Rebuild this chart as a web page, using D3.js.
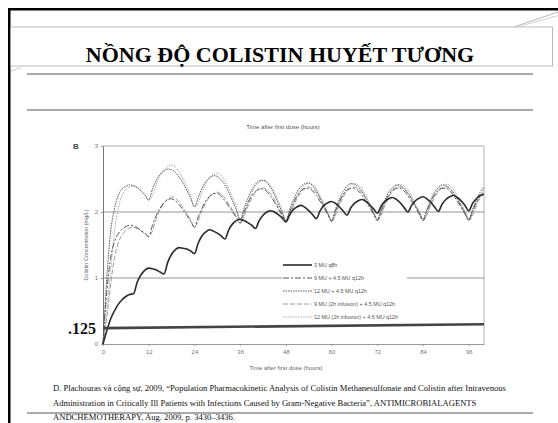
<!DOCTYPE html>
<html>
<head>
<meta charset="UTF-8">
<style>
  body { margin: 0; background: #fff; }
  svg { display: block; }
</style>
</head>
<body>
<svg></svg>
<script src="https://d3js.org/d3.v7.min.js"></script>
<script>

let width = 558, height = 423;

// time grid, hours after first dose
let hours = d3.range(0, 101);

// colistin concentration (mg/L)
let s3mu = [
  0, 0.2, 0.38, 0.5, 0.6, 0.67, 0.72, 0.75, 0.76,
  0.94, 1.05, 1.12, 1.15, 1.14, 1.12, 1.09, 1.06,
  1.24, 1.36, 1.43, 1.46, 1.45, 1.44, 1.41, 1.37,
  1.53, 1.64, 1.7, 1.73, 1.71, 1.68, 1.64, 1.59,
  1.73, 1.82, 1.87, 1.89, 1.87, 1.84, 1.8, 1.75,
  1.87, 1.95, 2.0, 2.02, 2.0, 1.96, 1.91, 1.85,
  1.96, 2.04, 2.08, 2.1, 2.07, 2.02, 1.96, 1.9,
  2.02, 2.1, 2.14, 2.16, 2.13, 2.08, 2.02, 1.95,
  2.06, 2.13, 2.17, 2.19, 2.16, 2.11, 2.05, 1.98,
  2.09, 2.16, 2.2, 2.22, 2.19, 2.14, 2.07, 2.0,
  2.1, 2.17, 2.21, 2.23, 2.2, 2.15, 2.08, 2.01,
  2.12, 2.19, 2.23, 2.25, 2.22, 2.17, 2.1, 2.02,
  2.13, 2.2, 2.25, 2.27
];

let s9mu = [
  0, 0.8, 1.3, 1.55, 1.67, 1.74, 1.78, 1.8, 1.79, 1.76, 1.72, 1.68, 1.63,
  1.8, 1.95, 2.06, 2.14, 2.19, 2.2, 2.17, 2.11, 2.03, 1.95, 1.86, 1.77,
  1.93, 2.06, 2.17, 2.24, 2.28, 2.28, 2.24, 2.17, 2.09, 2.0, 1.92, 1.83,
  1.99, 2.13, 2.24, 2.31, 2.35, 2.35, 2.31, 2.24, 2.15, 2.05, 1.95, 1.85,
  2.0, 2.14, 2.25, 2.32, 2.36, 2.36, 2.32, 2.25, 2.16, 2.06, 1.96, 1.86,
  2.01, 2.15, 2.26, 2.33, 2.36, 2.36, 2.32, 2.25, 2.16, 2.07, 1.97, 1.87,
  2.01, 2.15, 2.26, 2.33, 2.36, 2.36, 2.32, 2.25, 2.16, 2.07, 1.97, 1.87,
  2.01, 2.15, 2.26, 2.33, 2.36, 2.36, 2.32, 2.25, 2.16, 2.07, 1.97, 1.87,
  2.01, 2.15, 2.25, 2.3
];

let s12mu = [
  0, 1.0, 1.7, 2.05, 2.25, 2.35, 2.39, 2.41, 2.4, 2.37, 2.32, 2.26, 2.18,
  2.35, 2.48, 2.57, 2.62, 2.65, 2.64, 2.6, 2.53, 2.44, 2.33, 2.21, 2.08,
  2.22, 2.36, 2.46, 2.52, 2.55, 2.54, 2.49, 2.41, 2.3, 2.17, 2.03, 1.88,
  2.05, 2.2, 2.33, 2.42, 2.47, 2.48, 2.45, 2.37, 2.26, 2.13, 2.0, 1.87,
  2.04, 2.19, 2.31, 2.39, 2.43, 2.44, 2.4, 2.32, 2.21, 2.09, 1.98, 1.87,
  2.04, 2.19, 2.31, 2.39, 2.43, 2.42, 2.38, 2.31, 2.21, 2.1, 1.99, 1.89,
  2.04, 2.18, 2.3, 2.37, 2.41, 2.4, 2.36, 2.29, 2.2, 2.09, 1.99, 1.89,
  2.04, 2.18, 2.3, 2.37, 2.41, 2.4, 2.36, 2.29, 2.2, 2.09, 1.99, 1.89,
  2.04, 2.18, 2.3, 2.37
];

let s9mu2h = [
  0, 0.4, 0.9, 1.3, 1.53, 1.65, 1.72, 1.76, 1.77, 1.75, 1.71, 1.67, 1.62,
  1.72, 1.9, 2.03, 2.13, 2.19, 2.23, 2.21, 2.15, 2.07, 1.98, 1.88, 1.77,
  1.87, 2.02, 2.14, 2.23, 2.28, 2.3, 2.27, 2.21, 2.12, 2.03, 1.93, 1.83,
  1.93, 2.08, 2.2, 2.29, 2.34, 2.37, 2.34, 2.28, 2.19, 2.08, 1.97, 1.85,
  1.94, 2.09, 2.21, 2.3, 2.35, 2.38, 2.35, 2.29, 2.2, 2.09, 1.98, 1.86,
  1.95, 2.1, 2.22, 2.31, 2.36, 2.38, 2.35, 2.29, 2.2, 2.1, 1.99, 1.87,
  1.95, 2.1, 2.22, 2.31, 2.36, 2.38, 2.35, 2.29, 2.2, 2.1, 1.99, 1.87,
  1.95, 2.1, 2.22, 2.31, 2.36, 2.38, 2.35, 2.29, 2.2, 2.1, 1.99, 1.87,
  1.95, 2.1, 2.21, 2.28
];

let s12mu2h = [
  0, 0.5, 1.1, 1.7, 2.05, 2.25, 2.34, 2.38, 2.39, 2.37, 2.32, 2.26, 2.18,
  2.25, 2.42, 2.55, 2.64, 2.69, 2.71, 2.68, 2.61, 2.51, 2.38, 2.24, 2.08,
  2.14, 2.3, 2.43, 2.52, 2.57, 2.59, 2.55, 2.47, 2.36, 2.22, 2.07, 1.88,
  1.98, 2.14, 2.28, 2.39, 2.45, 2.48, 2.46, 2.4, 2.3, 2.17, 2.03, 1.87,
  1.97, 2.12, 2.25, 2.35, 2.41, 2.44, 2.42, 2.35, 2.25, 2.13, 2.0, 1.87,
  1.97, 2.12, 2.25, 2.35, 2.41, 2.43, 2.41, 2.35, 2.25, 2.13, 2.01, 1.89,
  1.97, 2.12, 2.24, 2.34, 2.4, 2.42, 2.4, 2.34, 2.24, 2.13, 2.01, 1.89,
  1.97, 2.12, 2.24, 2.34, 2.4, 2.42, 2.4, 2.34, 2.24, 2.13, 2.01, 1.89,
  1.97, 2.12, 2.24, 2.34
];

let seriesNames = [
  "3 MU q8h",
  "9 MU + 4.5 MU q12h",
  "12 MU + 4.5 MU q12h",
  "9 MU (2h infusion) + 4.5 MU q12h",
  "12 MU (2h infusion) + 4.5 MU q12h"
];

let xTicks = [0, 12, 24, 36, 48, 60, 72, 84, 96];
let yTicks = [0, 1, 2, 3];
let gridValues = [1, 2];

// hand drawn ".125" marker line on the slide (start, end)
let markTimes = [0, 100];
let markLevels = [0.24, 0.30];

let citation = [
  "D. Plachouras và cộng sự, 2009, “Population Pharmacokinetic Analysis of Colistin Methanesulfonate and Colistin after Intravenous",
  "Administration in Critically Ill Patients with Infections Caused by Gram-Negative Bacteria”, ANTIMICROBIALAGENTS",
  "ANDCHEMOTHERAPY,  Aug. 2009, p. 3430–3436."
];

let series = [s3mu, s9mu, s12mu, s9mu2h, s12mu2h].map((vals, i) => ({
  name: seriesNames[i],
  values: vals.map((v, j) => ({ t: hours[j], c: v }))
}));

let styles = [
  { stroke: "#2b2b2b", width: 1.6, dash: null },
  { stroke: "#555", width: 1, dash: "6,2,2,2" },
  { stroke: "#555", width: 1, dash: "1.5,1" },
  { stroke: "#a0a0a0", width: 1, dash: "5,2" },
  { stroke: "#b0b0b0", width: 1, dash: "1.5,1" }
];

let svg = d3.select("svg")
  .attr("width", width)
  .attr("height", height);

// ---- slide decoration ----
svg.append("rect").attr("x", 8).attr("y", 8).attr("width", 550).attr("height", 2.5).attr("fill", "#000");
svg.append("rect").attr("x", 8).attr("y", 8).attr("width", 2.5).attr("height", 415).attr("fill", "#000");

svg.append("rect")
  .attr("x", 10.5).attr("y", 27).attr("width", 542).attr("height", 39)
  .attr("fill", "none").attr("stroke", "#aaa").attr("stroke-width", 0.8);

svg.append("line").attr("x1", 515).attr("y1", 26.5).attr("x2", 558).attr("y2", 12)
  .attr("stroke", "#999").attr("stroke-width", 0.7);
svg.append("line").attr("x1", 519).attr("y1", 26.5).attr("x2", 558).attr("y2", 15.5)
  .attr("stroke", "#bbb").attr("stroke-width", 0.7);
svg.append("line").attr("x1", 11).attr("y1", 71).attr("x2", 21).attr("y2", 67.5)
  .attr("stroke", "#bbb").attr("stroke-width", 0.7);

svg.append("text")
  .attr("x", 280).attr("y", 62)
  .attr("text-anchor", "middle")
  .style("font-family", "'Liberation Serif', 'Times New Roman', serif")
  .style("font-weight", "bold")
  .style("font-size", "22px")
  .attr("fill", "#000")
  .text("NỒNG ĐỘ COLISTIN HUYẾT TƯƠNG");

[74, 110, 413].forEach(yy => {
  svg.append("line")
    .attr("x1", 27).attr("x2", 533).attr("y1", yy).attr("y2", yy)
    .attr("stroke", "#555").attr("stroke-width", 1.2);
});

svg.append("text")
  .attr("x", 283).attr("y", 129)
  .attr("text-anchor", "middle")
  .style("font-family", "'Liberation Sans', Arial, sans-serif")
  .style("font-size", "6px")
  .attr("fill", "#555")
  .text("Time after first dose (hours)");

// ---- chart ----
let x = d3.scaleLinear().domain([0, 100]).range([103, 484]);
let y = d3.scaleLinear().domain([0, 3]).range([344, 146]);

let chart = svg.append("g").style("font-family", "'Liberation Sans', Arial, sans-serif");

// frame top / right
chart.append("line").attr("x1", x(0)).attr("x2", x(100)).attr("y1", y(3)).attr("y2", y(3))
  .attr("stroke", "#999").attr("stroke-width", 0.8);
chart.append("line").attr("x1", x(100)).attr("x2", x(100)).attr("y1", y(3)).attr("y2", y(0))
  .attr("stroke", "#999").attr("stroke-width", 0.8);

chart.selectAll(".grid")
  .data(gridValues)
  .enter()
  .append("line")
  .attr("class", "grid")
  .attr("x1", x(0)).attr("x2", x(100))
  .attr("y1", d => y(d)).attr("y2", d => y(d))
  .attr("stroke", "#888").attr("stroke-width", 0.9);

let xAxis = chart.append("g")
  .attr("transform", "translate(0," + y(0) + ")")
  .call(d3.axisBottom(x).tickValues(xTicks).tickSize(2).tickSizeOuter(0).tickFormat(d3.format("d")));
xAxis.select(".domain").attr("stroke", "#999");
xAxis.selectAll(".tick line").attr("stroke", "#999");
xAxis.selectAll("text").attr("fill", "#777").style("font-size", "6px").attr("dy", "0.9em");

let yAxis = chart.append("g")
  .attr("transform", "translate(" + x(0) + ",0)")
  .call(d3.axisLeft(y).tickValues(yTicks).tickSize(2).tickSizeOuter(0).tickFormat(d3.format("d")));
yAxis.select(".domain").attr("stroke", "#777");
yAxis.selectAll(".tick line").attr("stroke", "#999");
yAxis.selectAll("text").attr("fill", "#777").style("font-size", "6px");

chart.append("text")
  .attr("transform", "translate(88," + y(1.5) + ") rotate(-90)")
  .attr("text-anchor", "middle")
  .style("font-size", "5.5px")
  .attr("fill", "#666")
  .text("Colistin Concentration (mg/L)");

chart.append("text")
  .attr("x", x(48)).attr("y", 370)
  .attr("text-anchor", "middle")
  .style("font-size", "6px")
  .attr("fill", "#666")
  .text("Time after first dose (hours)");

chart.append("text")
  .attr("x", 73).attr("y", 149)
  .style("font-size", "8px")
  .style("font-weight", "bold")
  .attr("fill", "#444")
  .text("B");

// legend box hides the grid line
let legend = chart.append("g");
legend.append("rect")
  .attr("x", 282).attr("y", 259).attr("width", 125).attr("height", 63)
  .attr("fill", "#fff");

let line = d3.line()
  .x(d => x(d.t))
  .y(d => y(d.c))
  .curve(d3.curveMonotoneX);

chart.append("g")
  .selectAll("path")
  .data(series.slice().reverse())
  .enter()
  .append("path")
  .attr("d", d => line(d.values))
  .attr("fill", "none")
  .attr("stroke", d => styles[seriesNames.indexOf(d.name)].stroke)
  .attr("stroke-width", d => styles[seriesNames.indexOf(d.name)].width)
  .attr("stroke-dasharray", d => styles[seriesNames.indexOf(d.name)].dash);

let ly = d3.scalePoint().domain(seriesNames).range([265, 317]);

legend.selectAll(".item")
  .data(seriesNames)
  .enter()
  .append("line")
  .attr("x1", 283).attr("x2", 312)
  .attr("y1", d => ly(d)).attr("y2", d => ly(d))
  .attr("stroke", (d, i) => styles[i].stroke)
  .attr("stroke-width", (d, i) => styles[i].width)
  .attr("stroke-dasharray", (d, i) => styles[i].dash);

legend.selectAll(".label")
  .data(seriesNames)
  .enter()
  .append("text")
  .attr("x", 314)
  .attr("y", d => ly(d))
  .attr("dy", "0.35em")
  .style("font-size", "5.4px")
  .attr("fill", "#555")
  .text(d => d);

// ".125" marker
chart.append("line")
  .attr("x1", x(markTimes[0])).attr("y1", y(markLevels[0]))
  .attr("x2", x(markTimes[1])).attr("y2", y(markLevels[1]))
  .attr("stroke", "#444").attr("stroke-width", 2.6);

svg.append("text")
  .attr("x", 96).attr("y", 334)
  .attr("text-anchor", "end")
  .style("font-family", "'Liberation Serif', 'Times New Roman', serif")
  .style("font-weight", "bold")
  .style("font-size", "16px")
  .attr("fill", "#111")
  .text(".125");

// ---- citation ----
svg.append("g")
  .selectAll("text")
  .data(citation)
  .enter()
  .append("text")
  .attr("x", 53)
  .attr("y", (d, i) => [391, 406, 420][i])
  .style("font-family", "'Liberation Serif', 'Times New Roman', serif")
  .style("font-size", "8.6px")
  .attr("fill", "#111")
  .text(d => d);

</script>
</body>
</html>
